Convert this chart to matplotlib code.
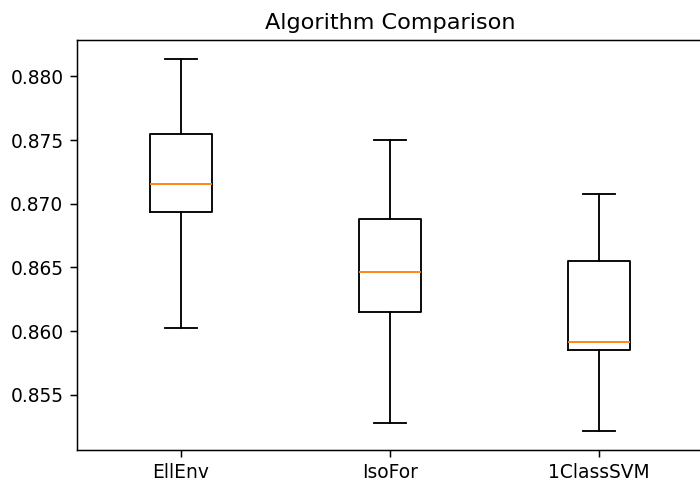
import matplotlib
matplotlib.use("Agg")
import matplotlib.pyplot as plt

# model names and their box statistics
names = ["EllEnv", "IsoFor", "1ClassSVM"]
whislo = [0.86028, 0.85275, 0.85213]
q1 = [0.86939, 0.86151, 0.85851]
med = [0.87152, 0.86467, 0.85914]
q3 = [0.87548, 0.86879, 0.86554]
whishi = [0.88140, 0.87500, 0.87074]

stats = []
for i in range(len(names)):
    stats.append({"label": names[i], "whislo": whislo[i], "q1": q1[i],
                  "med": med[i], "q3": q3[i], "whishi": whishi[i], "fliers": []})

# the reference looks like a default figure rendered at ~134 dpi
dpi = 134
fig = plt.figure(figsize=(700 / dpi, 481 / dpi), dpi=dpi)
ax = fig.add_axes([0.1093, 0.0644, 0.8957, 0.8524])
ax.bxp(stats, showfliers=False)
ax.set_title("Algorithm Comparison")
fig.savefig("out.png", dpi=dpi)
